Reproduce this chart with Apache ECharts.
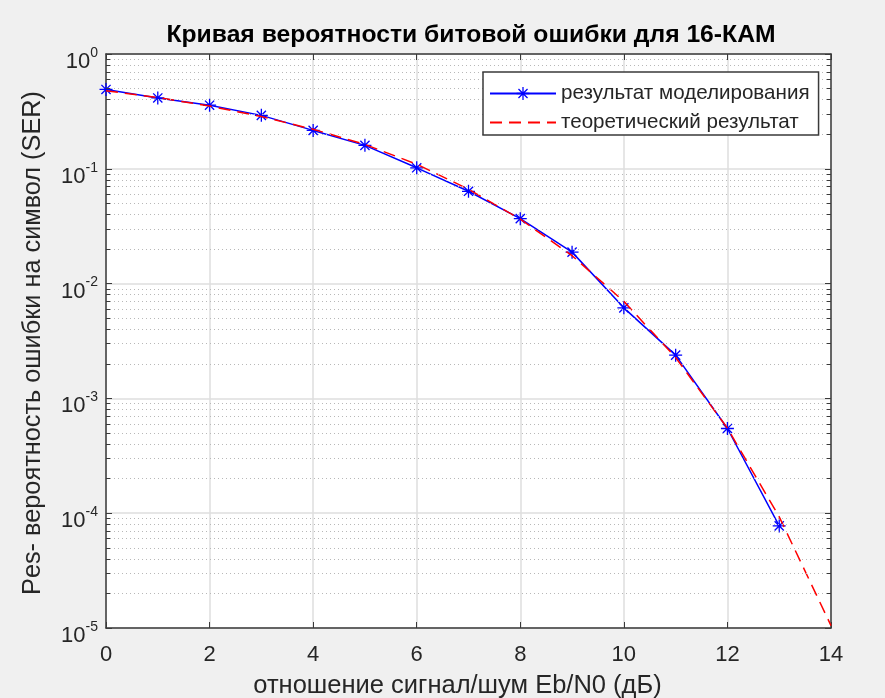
<!DOCTYPE html>
<html>
<head>
<meta charset="utf-8">
<script src="https://cdn.jsdelivr.net/npm/echarts@6/dist/echarts.min.js"></script>
<style>
html,body{margin:0;padding:0;background:#f0f0f0;}
#chart{width:885px;height:698px;}
</style>
</head>
<body>
<div id="chart"></div>
<script>
// ---- data ----
const snrDb = [0,1,2,3,4,5,6,7,8,9,10,11,12,13,14];
const simSER = [0.491,0.414,0.358,0.292,0.216,0.160,0.102,0.0637,0.0368,0.0188,0.00615,0.00238,0.000547,0.0000775];
const theorySER = [0.479,0.4175,0.352,0.285,0.221,0.163,0.1096,0.0664,0.0364,0.0175,0.0070,0.00227,0.00055,0.000093,0.0000105];
const decades = [1e-5,1e-4,1e-3,1e-2,1e-1];
const minorMultipliers = [2,3,4,5,6,7,8,9];
const minorGridY = [];
decades.forEach(function(d){ minorMultipliers.forEach(function(m){ minorGridY.push(+(m*d).toPrecision(3)); }); });
const xMin = 0, xMax = 14, minorTickLen = 0.08;

const titleText = 'Кривая вероятности битовой ошибки для 16-КАМ';
const xName = 'отношение сигнал/шум Eb/N0 (дБ)';
const yName = 'Pes- вероятность ошибки на символ (SER)';
const simName = 'результат моделирования';
const theoryName = 'теоретический результат';

const FONT = '"Liberation Sans", Arial, Helvetica, sans-serif';
const AX = '#262626';
const AXLINE = '#3a3a3a';

const asterisk = 'path://M9 0 L11 0 L11 20 L9 20 Z M0 9 L20 9 L20 11 L0 11 Z M3.64 2.22 L17.78 16.36 L16.36 17.78 L2.22 3.64 Z M16.36 2.22 L17.78 3.64 L3.64 17.78 L2.22 16.36 Z';

const minorTickLines = [];
minorGridY.forEach(function(v){
  minorTickLines.push([{coord:[xMin, v]}, {coord:[xMin + minorTickLen, v]}]);
  minorTickLines.push([{coord:[xMax - minorTickLen, v]}, {coord:[xMax, v]}]);
});

const chart = echarts.init(document.getElementById('chart'), null, {renderer:'canvas'});
chart.setOption({
  backgroundColor:'#f0f0f0',
  animation:false,
  textStyle:{fontFamily:FONT},
  title:{
    text:titleText, left:466, textAlign:'center', top:18,
    textStyle:{fontFamily:FONT, fontSize:24.7, fontWeight:'bold', color:'#000'}
  },
  grid:{show:true, backgroundColor:'#fff', borderWidth:0, left:106, top:54, right:54, bottom:70,
        containLabel:false, outerBoundsMode:'none'},
  legend:{
    left:483, top:72, orient:'vertical', z:20,
    backgroundColor:'#fff', borderColor:AXLINE, borderWidth:1.5, borderRadius:0,
    padding:[11,9,2,6], itemGap:8, itemWidth:66, itemHeight:16,
    textStyle:{fontFamily:FONT, fontSize:20.6, color:AX},
    data:[{name:simName}, {name:theoryName, itemStyle:{opacity:0}}]
  },
  xAxis:[{
    type:'value', min:xMin, max:xMax, interval:2,
    name:xName, nameLocation:'middle', nameGap:45,
    nameTextStyle:{fontFamily:FONT, fontSize:25.5, color:AX, padding:[0,22,0,0]},
    axisLine:{show:true, onZero:false, lineStyle:{color:AXLINE, width:1.5}},
    axisTick:{show:true, inside:true, length:6, lineStyle:{color:AXLINE}},
    axisLabel:{margin:16, fontSize:22, color:AX, fontFamily:FONT},
    splitLine:{show:true, lineStyle:{color:'#dedede', width:1.5}}
  },{
    type:'value', min:xMin, max:xMax, interval:2, position:'top',
    axisLine:{show:true, onZero:false, lineStyle:{color:AXLINE, width:1.5}},
    axisTick:{show:true, inside:true, length:6, lineStyle:{color:AXLINE}},
    axisLabel:{show:false}, splitLine:{show:false}
  }],
  yAxis:[{
    type:'log', logBase:10, min:1e-5, max:1, interval:1,
    name:yName, nameLocation:'middle', nameGap:60,
    nameTextStyle:{fontFamily:FONT, fontSize:25.3, color:AX, padding:[0,4,0,0]},
    axisLine:{show:true, onZero:false, lineStyle:{color:AXLINE, width:1.5}},
    axisTick:{show:true, inside:true, length:6, lineStyle:{color:AXLINE}},
    axisLabel:{
      margin:8, color:AX, fontFamily:FONT,
      formatter:function(v){ var e = Math.round(Math.log10(v)); return '{b|10}{s|' + e + '}'; },
      rich:{
        b:{fontSize:22, lineHeight:22, color:AX, fontFamily:FONT, verticalAlign:'top', padding:[8,0,0,0]},
        s:{fontSize:14, lineHeight:14, color:AX, fontFamily:FONT, verticalAlign:'top', padding:[3,0,13,0]}
      }
    },
    splitLine:{show:true, lineStyle:{color:'#dedede', width:1.5}}
  },{
    type:'log', logBase:10, min:1e-5, max:1, interval:1, position:'right',
    axisLine:{show:true, onZero:false, lineStyle:{color:AXLINE, width:1.5}},
    axisTick:{show:true, inside:true, length:6, lineStyle:{color:AXLINE}},
    axisLabel:{show:false}, splitLine:{show:false}
  }],
  series:[{
    name:'minor-grid', type:'line', data:[], silent:true, z:1,
    markLine:{
      silent:true, symbol:'none', label:{show:false}, precision:12,
      lineStyle:{color:'#b8b8b8', type:[1,3], width:1},
      data:minorGridY.map(function(v){ return {yAxis:v}; })
    }
  },{
    name:'minor-ticks', type:'line', data:[], silent:true, z:2,
    markLine:{
      silent:true, symbol:'none', label:{show:false}, precision:12,
      lineStyle:{color:AXLINE, type:'solid', width:1},
      data:minorTickLines
    }
  },{
    name:simName, type:'line',
    data:simSER.map(function(v,i){ return [snrDb[i], v]; }),
    symbol:asterisk, symbolSize:13, showAllSymbol:true,
    lineStyle:{color:'#0000ff', width:1.5},
    itemStyle:{color:'#0000ff'},
    z:3
  },{
    name:theoryName, type:'line',
    data:theorySER.map(function(v,i){ return [snrDb[i], v]; }),
    symbol:'none',
    lineStyle:{color:'#ff0000', width:1.5, type:[12,7]},
    itemStyle:{color:'#ff0000'},
    z:4
  }]
});
</script>
</body>
</html>
